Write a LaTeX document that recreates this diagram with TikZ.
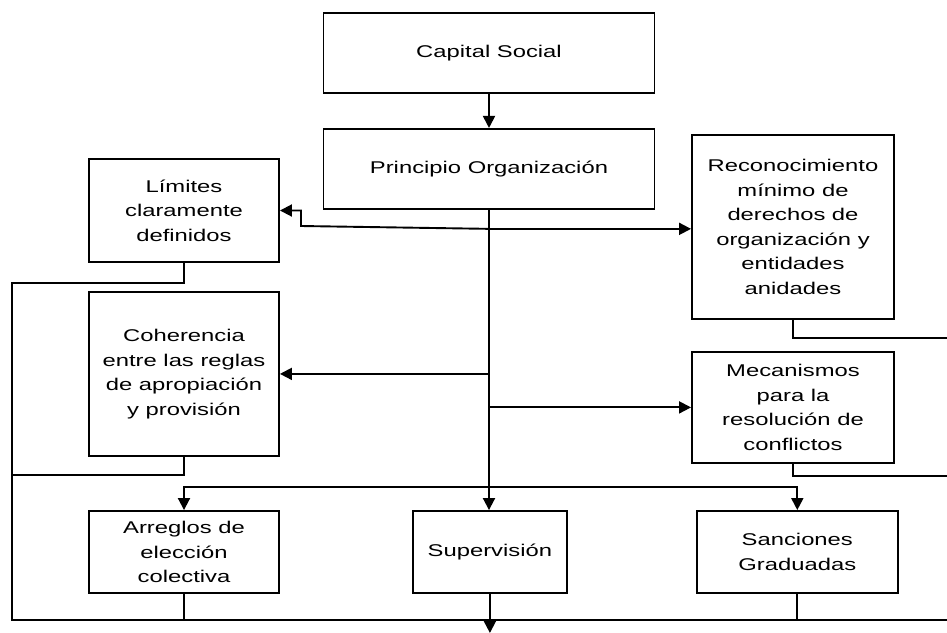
\documentclass[tikz,border=0pt]{standalone}
\usepackage{fontspec}
\setmainfont{Liberation Sans}[FakeStretch=1.4]
\usetikzlibrary{arrows.meta,positioning,calc}

\begin{document}
\begin{tikzpicture}[
    x=1pt, y=-1pt,
    node distance=30pt and 30pt,
    block/.style={rectangle, draw=black, line width=1.9pt, align=center, inner sep=2pt, font=\fontsize{17}{24.5}\selectfont},
    mainbox/.style={block, minimum width=331pt, minimum height=80pt},
    arrow/.style={-{Triangle[length=12pt,width=12pt]}, line width=1.9pt},
    line/.style={line width=1.9pt}
]
\useasboundingbox (0,0) rectangle (947,632);

% ============ PRINCIPIOS ============
\node[mainbox] (capital-social) at (489,53) {Capital Social};
\node[mainbox, below=34pt of capital-social] (principio-org) {Principio Organización};

% columna izquierda
\node[block, minimum width=190pt, minimum height=103pt] (limites) at (184,210.5) {Límites\\claramente\\definidos};
\node[block, minimum width=190pt, minimum height=164pt, below=28pt of limites] (coherencia) {Coherencia\\entre las reglas\\de apropiación\\y provisión};

% columna derecha
\node[block, minimum width=202pt, minimum height=184pt] (reconocimiento) at (793,227) {Reconocimiento\\mínimo de\\derechos de\\organización y\\entidades\\anidades};
\node[block, minimum width=202pt, minimum height=111pt, below=31pt of reconocimiento] (mecanismos) {Mecanismos\\para la\\resolución de\\conflictos};

% fila inferior
\node[block, minimum width=190pt, minimum height=82pt] (arreglos) at (184,552) {Arreglos de\\elección\\colectiva};
\node[block, minimum width=154pt, minimum height=82pt, right=132pt of arreglos] (supervision) {Supervisión};
\node[block, minimum width=201pt, minimum height=82pt, right=128pt of supervision] (sanciones) {Sanciones\\Graduadas};

% ============ PUNTOS DE UNION ============
\coordinate (split-top) at ($(principio-org.south)+(0,19)$);
\coordinate (bend-lim) at (301,226);
\coordinate (split-coh) at (principio-org.south |- coherencia.east);
\coordinate (split-mec) at (principio-org.south |- mecanismos.west);
\coordinate (split-bot) at ($(supervision.north)+(0,-23)$);
\coordinate (bus-left) at (12,620);
\coordinate (bus-right) at (947,620);
\coordinate (edge-rec) at (947,338);
\coordinate (edge-mec) at (947,476);
\coordinate (salida) at ($(supervision.south)+(0,39)$);

% ============ CONEXIONES ============
\draw[arrow] (capital-social) -- (principio-org);
\draw[arrow] (principio-org.south) -- (principio-org.south |- supervision.north);

% ramas hacia los lados
\draw[arrow] (split-top) -- (reconocimiento.west |- split-top);
\draw[arrow] (split-top) -- (bend-lim) |- (limites.east);
\draw[arrow] (split-coh) -- (coherencia.east);
\draw[arrow] (split-mec) -- (mecanismos.west);
\draw[arrow] (split-bot) -| (arreglos.north);
\draw[arrow] (split-bot) -| (sanciones.north);

% retornos
\draw[line] (limites.south) -- ++(0,20) -| (bus-left) -- (bus-right);
\draw[line] (coherencia.south) -- ++(0,18) -| (bus-left);
\draw[line] (arreglos.south) -- (arreglos.south |- bus-left);
\draw[line] (sanciones.south) -- (sanciones.south |- bus-left);
\draw[line] (reconocimiento.south) |- (edge-rec);
\draw[line] (mecanismos.south) |- (edge-mec);
\draw[arrow] (supervision.south) -- (salida);

\end{tikzpicture}
\end{document}
